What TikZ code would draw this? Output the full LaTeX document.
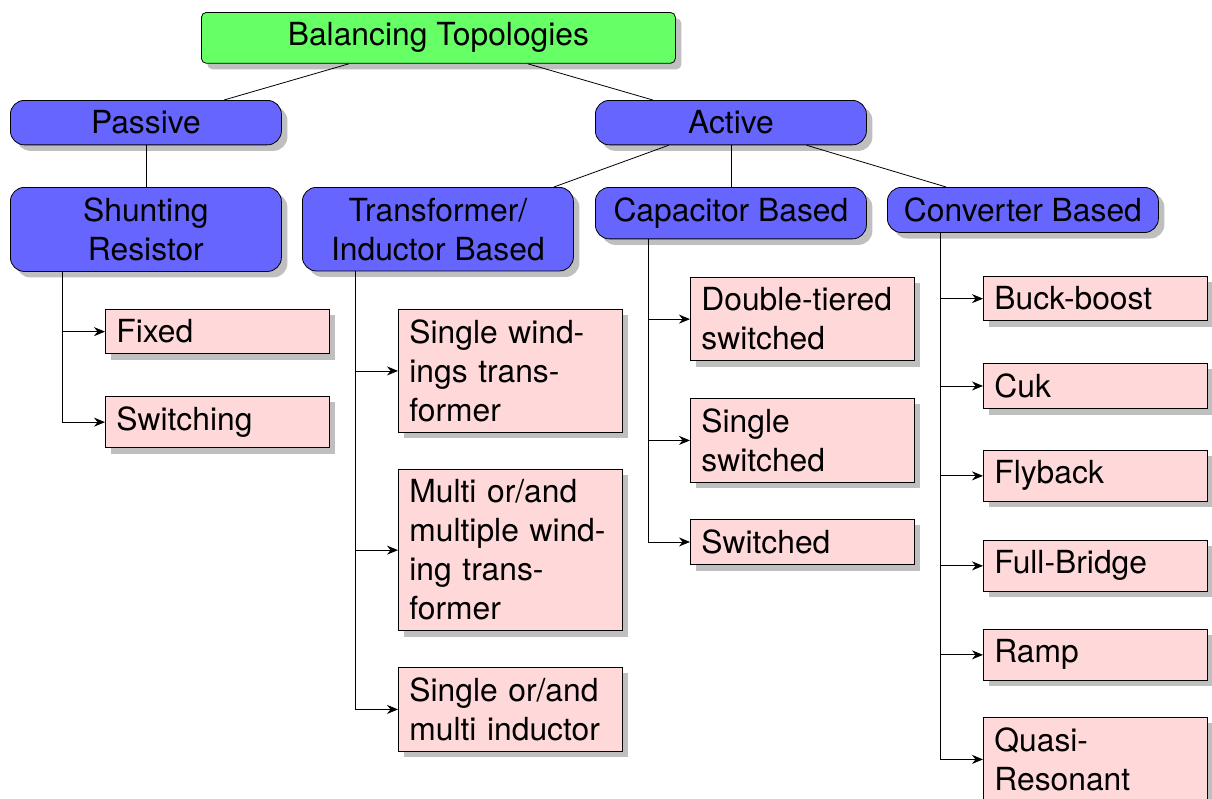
\documentclass[tikz,border=0pt]{standalone}
\usepackage{fontspec}
\setmainfont{TeX Gyre Heros}
\usetikzlibrary{shadows,arrows.meta}
\definecolor{rootgreen}{HTML}{66FF66}
\definecolor{midblue}{HTML}{6666FF}
\definecolor{leafpink}{HTML}{FFD9D9}
\definecolor{shadowgray}{HTML}{BFBFBF}
\begin{document}
\begin{tikzpicture}[x=0.5pt,y=-0.5pt,
  every node/.style={font=\fontsize{15.9}{19.5}\selectfont},
  boxshadow/.style={drop shadow={shadow xshift=3pt,shadow yshift=-3pt,fill=shadowgray,opacity=1}},
  rootbox/.style={draw=black, fill=rootgreen, rounded corners=2.5pt, anchor=north west, minimum width=237pt, inner ysep=5.2pt, boxshadow},
  midbox/.style={draw=black, fill=midblue, rounded corners=7pt, anchor=north west, minimum width=135.5pt, align=center, inner ysep=5.2pt, boxshadow},
  leafbox/.style={draw=black, fill=leafpink, anchor=north west, text width=101pt, align=left, inner xsep=5.5pt, inner ysep=5.2pt, boxshadow},
  arrowlink/.style={-{Stealth[length=5.5pt,width=4.5pt,inset=1.8pt]}},
]
\useasboundingbox (0,0) rectangle (1212,799);

% root and first level
\node[rootbox] (root) at (201,12) {Balancing Topologies};
\node[midbox] (passive) at (10,100) {Passive};
\node[midbox] (active) at (595,100) {Active};

% second level
\node[midbox] (shunt) at (10,187) {Shunting\\Resistor};
\node[midbox] (trans) at (302,187) {Transformer/\\Inductor Based};
\node[midbox] (cap) at (595,187) {Capacitor Based};
\node[midbox] (conv) at (887,187) {Converter Based};

% leaves: shunting resistor
\node[leafbox] (fixed) at (105,309) {Fixed};
\node[leafbox] (switching) at (105,396) {Switching};

% leaves: transformer/inductor
\node[leafbox] (swt) at (398,309) {Single wind-\\ings trans-\\former};
\node[leafbox] (mwt) at (398,469) {Multi or/and\\multiple wind-\\ing trans-\\former};
\node[leafbox] (smi) at (398,667) {Single or/and\\multi inductor};

% leaves: capacitor
\node[leafbox] (dts) at (690,277) {Double-tiered\\switched};
\node[leafbox] (ss) at (690,398) {Single\\switched};
\node[leafbox] (sw) at (690,519) {Switched};

% leaves: converter
\node[leafbox] (bb) at (983,276) {Buck-boost};
\node[leafbox] (cuk) at (983,363) {Cuk};
\node[leafbox] (fly) at (983,450) {Flyback};
\node[leafbox] (fb) at (983,540) {Full-Bridge};
\node[leafbox] (ramp) at (983,629) {Ramp};
\node[leafbox] (qr) at (983,717) {Quasi-\\Resonant};

% tree edges
\draw (root) -- (passive);
\draw (root) -- (active);
\draw (passive) -- (shunt);
\draw (active) -- (trans);
\draw (active) -- (cap);
\draw (active) -- (conv);

% trunks
\coordinate (t1) at ([xshift=26pt]shunt.south west);
\coordinate (t2) at ([xshift=26.5pt]trans.south west);
\coordinate (t3) at ([xshift=26.5pt]cap.south west);
\coordinate (t4) at ([xshift=26.5pt]conv.south west);

\foreach \leaf in {fixed,switching} \draw[arrowlink] (t1) |- (\leaf.west);
\foreach \leaf in {swt,mwt,smi} \draw[arrowlink] (t2) |- (\leaf.west);
\foreach \leaf in {dts,ss,sw} \draw[arrowlink] (t3) |- (\leaf.west);
\foreach \leaf in {bb,cuk,fly,fb,ramp,qr} \draw[arrowlink] (t4) |- (\leaf.west);
\end{tikzpicture}
\end{document}
